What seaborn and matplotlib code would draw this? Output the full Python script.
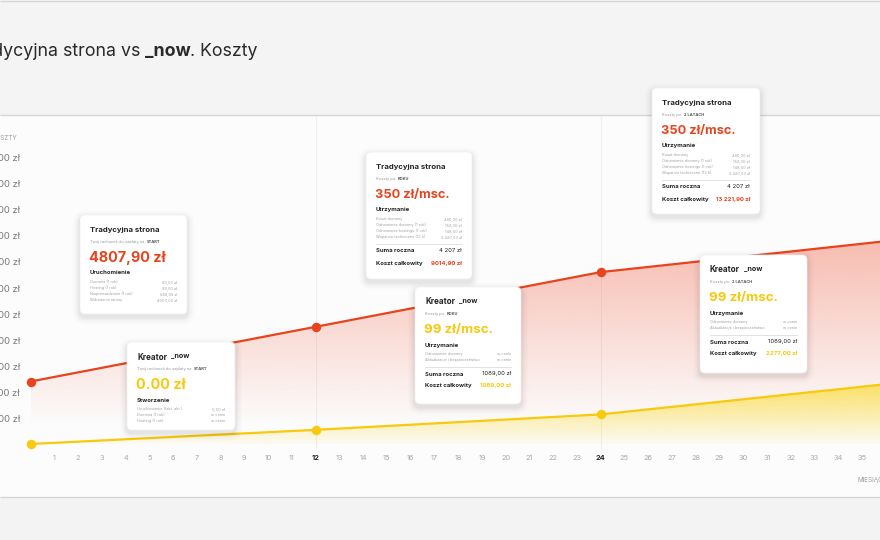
import matplotlib
matplotlib.use("Agg")
import matplotlib.pyplot as plt
from matplotlib.patches import FancyBboxPatch, Rectangle
import seaborn as sns
import numpy as np
import pandas as pd

# data
months = [0, 12, 24, 36]
tradycyjna = [4807.90, 9014.90, 13221.90, 15600.00]
kreator = [0.00, 1089.00, 2277.00, 4600.00]

x_ticks = list(range(1, 36))
y_ticks = [2000, 4000, 6000, 8000, 10000, 12000, 14000, 16000, 18000, 20000, 22000]
y_labels = ["2 000 zł", "4 000 zł", "6 000 zł", "8 000 zł", "10 000 zł", "12 000 zł",
            "14 000 zł", "16 000 zł", "18 000 zł", "20 000 zł", "22 000 zł"]

RED = "#e8431c"
YEL = "#f8c90c"
DARK = "#242424"

df = pd.DataFrame({
    "miesiac": months * 2,
    "koszt": tradycyjna + kreator,
    "seria": ["Tradycyjna strona"] * len(months) + ["Kreator _now"] * len(months),
})

sns.set_theme(style="white")
plt.rcParams["font.family"] = ["Inter", "DejaVu Sans"]

W, H = 880, 540
fig = plt.figure(figsize=(W / 100, H / 100), dpi=100)

# page background
bg = fig.add_axes([0, 0, 1, 1], zorder=0)
bg.set_xlim(0, W)
bg.set_ylim(H, 0)
bg.axis("off")
bg.add_patch(Rectangle((0, 0), W, 115, color="#f4f4f4", lw=0))
bg.add_patch(Rectangle((0, 115), W, 382, color="#fcfcfc", lw=0))
bg.add_patch(Rectangle((0, 497), W, 43, color="#f3f3f3", lw=0))
bg.hlines([1, 115, 497], 0, W, color="#d6d6d6", lw=1)

# main chart
ax = fig.add_axes([22 / W, (H - 450) / H, 858 / W, 300 / H], zorder=1)
ax.patch.set_alpha(0)

sns.lineplot(data=df, x="miesiac", y="koszt", hue="seria", palette=[RED, YEL],
             marker="o", markersize=6.8, markeredgewidth=0, linewidth=1.6,
             legend=False, ax=ax, zorder=4)

xlim = (-0.36, 35.76)
ylim = (-461, 22615)


def gradient_fill(y_top, y_bot, color, a_top, a_bot, lo, hi):
    poly = ax.fill_between(months, y_top, y_bot, color="none", lw=0)
    rgb = matplotlib.colors.to_rgb(color)
    n = 256
    img = np.zeros((n, 1, 4))
    img[:, :, :3] = rgb
    img[:, 0, 3] = np.linspace(a_bot, a_top, n)
    im = ax.imshow(img, extent=[months[0], months[-1], lo, hi], origin="lower",
                   aspect="auto", zorder=2, interpolation="bicubic")
    im.set_clip_path(poly.get_paths()[0], transform=ax.transData)


gradient_fill(tradycyjna, kreator, "#f0583a", 0.40, 0.0, 1500, 16000)
gradient_fill(kreator, [0] * len(months), "#fbd21a", 0.7, 0.0, -300, 4800)

for m in (12, 24):
    ax.axvline(m, ymin=0.005, ymax=1.113, color="#efefef", lw=0.8, zorder=0, clip_on=False)

ax.set_xlim(*xlim)
ax.set_ylim(*ylim)
ax.set_xticks(x_ticks)
ax.set_xticklabels([str(m) for m in x_ticks])
ax.set_yticks(y_ticks)
ax.set_yticklabels(y_labels)
ax.tick_params(axis="x", length=0, pad=3.6, labelsize=5.3, labelcolor="#a8a8a8")
ax.tick_params(axis="y", length=0, pad=1.5, labelsize=6.8, labelcolor="#7a7a7a")
for lab in ax.get_xticklabels():
    if lab.get_text() in ("12", "24"):
        lab.set_fontweight("bold")
        lab.set_color(DARK)
ax.set_xlabel("")
ax.set_ylabel("")
for s in ax.spines.values():
    s.set_visible(False)
ax.grid(False)

# overlay in pixel coordinates
ov = fig.add_axes([0, 0, 1, 1], zorder=3)
ov.set_xlim(0, W)
ov.set_ylim(H, 0)
ov.axis("off")
ov.patch.set_alpha(0)
renderer = fig.canvas.get_renderer()


def after(t, gap=0):
    return t.get_window_extent(renderer).x1 + gap


def before(t, gap=0):
    return t.get_window_extent(renderer).x0 - gap


# title (cut by the left edge, as in the screenshot)
t3 = ov.text(258, 52, ". Koszty", ha="right", va="center", fontsize=12.8, color="#2a2a2a")
t2 = ov.text(before(t3), 52, "_now", ha="right", va="center", fontsize=12.8,
             fontweight="bold", color="#2a2a2a")
ov.text(before(t2, 4), 52, "Tradycyjna strona vs", ha="right", va="center",
        fontsize=12.8, color="#2a2a2a")

ov.text(17, 138, "KOSZTY", ha="right", va="center", fontsize=4.6, color="#9a9a9a")
ov.text(858, 480, "MIESIĄCE", ha="left", va="center", fontsize=4.6, color="#9a9a9a")


def card(x, y, w, h, kind, sub, sub_bold, big, big_size, color, section, rows, totals=None):
    for i, a in enumerate([0.03, 0.022, 0.015, 0.01, 0.006]):
        p = 1.5 * (i + 1)
        ov.add_patch(FancyBboxPatch((x - p, y - p + 3), w + 2 * p, h + 2 * p,
                                    boxstyle=f"round,pad=0,rounding_size={5 + p}",
                                    fc="black", ec="none", alpha=a))
    ov.add_patch(FancyBboxPatch((x, y), w, h, boxstyle="round,pad=0,rounding_size=5",
                                fc="white", ec="#f0f0f0", lw=0.5))
    L, R = x + 10, x + w - 10
    if kind == "trad":
        ov.text(L, y + 15, "Tradycyjna strona", fontsize=5.6, fontweight="bold",
                color=DARK, va="center")
    else:
        tk = ov.text(L, y + 15, "Kreator", fontsize=5.8, fontweight="bold",
                     color=DARK, va="center")
        ov.text(after(tk, 4), y + 13.5, "_now", fontsize=5.2, fontweight="bold",
                color=DARK, va="center")
    ts = ov.text(L, y + 27, sub, fontsize=2.9, color="#9a9a9a", va="center")
    ov.text(after(ts, 1), y + 27, sub_bold, fontsize=2.9, fontweight="bold",
            color="#555555", va="center")
    ov.text(L - 1, y + 43, big, fontsize=big_size, fontweight="bold", color=color, va="center")
    ov.text(L, y + 58, section, fontsize=4.3, fontweight="bold", color=DARK, va="center")
    for i, (lab, val) in enumerate(rows):
        yy = y + 67 + 6 * i
        ov.text(L, yy, lab, fontsize=2.8, color="#a0a0a0", va="center")
        ov.text(R, yy, val, fontsize=2.8, color="#a0a0a0", va="center", ha="right")
    if totals:
        sep = y + 67 + 6 * (len(rows) - 1) + 7
        ov.plot([L, R], [sep, sep], color="#dddddd", lw=0.6)
        ov.text(L, sep + 7, "Suma roczna", fontsize=4.3, fontweight="bold", color=DARK, va="center")
        ov.text(R, sep + 7, totals[0], fontsize=4.3, color=DARK, va="center", ha="right")
        ov.text(L, sep + 19, "Koszt całkowity", fontsize=4.3, fontweight="bold", color=DARK, va="center")
        ov.text(R, sep + 19, totals[1], fontsize=4.3, fontweight="bold", color=color,
                va="center", ha="right")


trad_start = [("Domena (1 rok)", "60,00 zł"), ("Hosting (1 rok)", "99,00 zł"),
              ("Nieprzewidziane (1 rok)", "648,90 zł"), ("Wdrożenie strony", "4000,00 zł")]
trad_keep = [("Koszt domeny", "480,00 zł"), ("Odnowienie domeny (1 rok)", "159,00 zł"),
             ("Odnowienie hostingu (1 rok)", "148,00 zł"), ("Wsparcie techniczne (12 h)", "3 420,00 zł")]
kre_start = [("Uruchomienie (fakt. akt.)", "0,00 zł"), ("Domena (1 rok)", "w cenie"),
             ("Hosting (1 rok)", "w cenie")]
kre_keep = [("Odnowienie domeny", "w cenie"), ("Aktualizacje i bezpieczeństwo", "w cenie")]

card(80, 215, 107, 99, "trad", "Twój rachunek do zapłaty na ", "START", "4807,90 zł", 10.4,
     RED, "Uruchomienie", trad_start)
card(127, 342, 108, 88, "kre", "Twój rachunek do zapłaty na ", "START", "0.00 zł", 10.4,
     YEL, "Stworzenie", kre_start)
card(366, 152, 106, 127, "trad", "Koszty po ", "ROKU", "350 zł/msc.", 9.2,
     RED, "Utrzymanie", trad_keep, ("4 207 zł", "9014,90 zł"))
card(415, 287, 106, 117, "kre", "Koszty po ", "ROKU", "99 zł/msc.", 9.6,
     YEL, "Utrzymanie", kre_keep, ("1089,00 zł", "1089,00 zł"))
card(652, 88, 108, 126, "trad", "Koszty po ", "2 LATACH", "350 zł/msc.", 9.2,
     RED, "Utrzymanie", trad_keep, ("4 207 zł", "13 221,90 zł"))
card(700, 255, 107, 118, "kre", "Koszty po ", "2 LATACH", "99 zł/msc.", 9.6,
     YEL, "Utrzymanie", kre_keep, ("1089,00 zł", "2277,00 zł"))

fig.savefig("out.png", dpi=100)
